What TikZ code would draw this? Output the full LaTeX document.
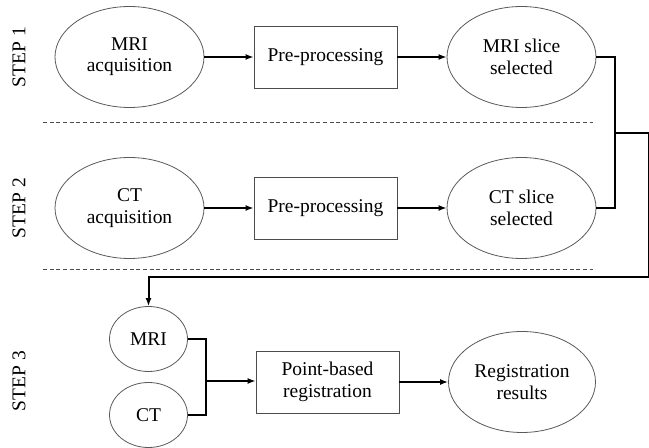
\documentclass[tikz,border=0pt]{standalone}
\usepackage{fontspec}
\setmainfont{Liberation Serif}
\usetikzlibrary{shapes.geometric,arrows.meta}
\begin{document}
\begin{tikzpicture}[x=0.75pt,y=-0.75pt,
  every node/.style={font=\fontsize{14.6}{16}\selectfont, text=black, align=center},
  oval/.style={ellipse, draw=black!65, line width=0.6pt, inner sep=0pt, minimum width=111.75pt, minimum height=75.75pt},
  disc/.style={ellipse, draw=black!65, line width=0.6pt, inner sep=0pt, minimum width=58.5pt, minimum height=48.75pt},
  procbox/.style={rectangle, draw=black!70, line width=0.6pt, inner sep=0pt, minimum width=107.25pt, minimum height=46.5pt},
  conn/.style={line width=1.5pt, black},
  arr/.style={conn, -{Latex[length=6pt,width=4.5pt]}},
  sep/.style={dashed, dash pattern=on 3pt off 2pt, line width=0.5pt, black!70},
  steplabel/.style={rotate=90}]
\useasboundingbox (0,0) rectangle (649,448);
% step labels
\node[steplabel] (s1) at (19,57) {STEP 1};
\node[steplabel] (s2) at (19,208) {STEP 2};
\node[steplabel] (s3) at (19,381) {STEP 3};
% row 1
\node[oval] (mriacq) at (129.5,57) {MRI\\acquisition};
\node[procbox] (pre1) at (325.5,57) {Pre-processing};
\node[oval] (mrisl) at (521.5,57) {MRI slice\\selected};
% row 2
\node[oval] (ctacq) at (129.5,208) {CT\\acquisition};
\node[procbox] (pre2) at (325.5,208) {Pre-processing};
\node[oval] (ctsl) at (521.5,208) {CT slice\\selected};
% row 3
\node[disc] (mri) at (148.5,339) {MRI};
\node[disc] (ct) at (148.5,415) {CT};
\node[procbox] (pbr) at (327.5,382) {Point-based\\registration};
\node[oval, minimum width=110.25pt] (res) at (522,382) {Registration\\results};
% separators
\coordinate (d1a) at (43,122); \coordinate (d1b) at (593,122);
\coordinate (d2a) at (43,269); \coordinate (d2b) at (593,269);
\draw[sep] (d1a) -- (d1b);
\draw[sep] (d2a) -- (d2b);
% arrows rows 1-2
\draw[arr] (mriacq) -- (pre1);
\draw[arr] (pre1) -- (mrisl);
\draw[arr] (ctacq) -- (pre2);
\draw[arr] (pre2) -- (ctsl);
% merge connector
\coordinate (jx) at (615,133);
\coordinate (jr) at (649,277);
\draw[conn] (mrisl.east) -| (jx) |- (ctsl.east);
\draw[arr] (jx) -| (jr) -- (jr -| mri.north) -- (mri.north);
% step 3
\coordinate (jm) at (206,381);
\draw[conn] (mri.east) -| (jm);
\draw[conn] (ct.east) -| (jm);
\draw[arr] (jm) -- (pbr.west |- jm);
\draw[arr] (pbr) -- (res);
\end{tikzpicture}
\end{document}
